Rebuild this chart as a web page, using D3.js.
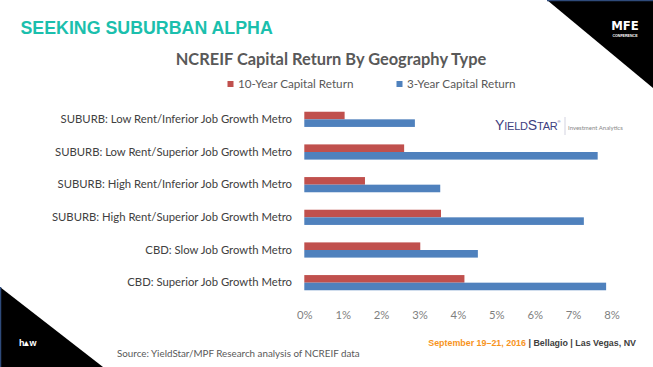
<!DOCTYPE html>
<html><head><meta charset="utf-8">
<script src="https://cdn.jsdelivr.net/npm/d3@7"></script>
<style>html,body{margin:0;padding:0;background:#fff;overflow:hidden}</style>
</head><body>
<script>
const categories = [
  "SUBURB: Low Rent/Inferior Job Growth Metro",
  "SUBURB: Low Rent/Superior Job Growth Metro",
  "SUBURB: High Rent/Inferior Job Growth Metro",
  "SUBURB: High Rent/Superior Job Growth Metro",
  "CBD: Slow Job Growth Metro",
  "CBD: Superior Job Growth Metro"
];
const tenYear = [1.05, 2.60, 1.58, 3.56, 3.02, 4.17];
const threeYear = [2.88, 7.64, 3.54, 7.28, 4.52, 7.86];
const tickValues = [0, 1, 2, 3, 4, 5, 6, 7, 8];
const seriesNames = ["10-Year Capital Return", "3-Year Capital Return"];
const colors = ["#c0504d", "#4f81bd"];

const W = 653, H = 367;
const svg = d3.select("body").append("svg").attr("width", W).attr("height", H);
const FONT = "Lato, 'Open Sans', sans-serif";

// decorations
svg.append("polygon").attr("points", "547,0 653,0 653,88").attr("fill", "#000");
svg.append("line").attr("x1", 547).attr("y1", 0.5).attr("x2", 653).attr("y2", 0.5).attr("stroke", "#2e4a7a").attr("stroke-width", 1.5);
svg.append("polygon").attr("points", "0,287 0,367 103,367").attr("fill", "#000");
svg.append("line").attr("x1", 0.5).attr("y1", 287).attr("x2", 0.5).attr("y2", 367).attr("stroke", "#2e4a7a").attr("stroke-width", 1.5);
// MFE logo
svg.append("text").attr("x", 625).attr("y", 30).attr("text-anchor", "middle")
  .attr("font-family", "'DejaVu Sans Condensed', 'Liberation Sans Narrow', sans-serif").attr("font-weight", "bold")
  .attr("font-size", 13).attr("fill", "#fff").text("MFE");
svg.append("text").attr("x", 625).attr("y", 36.5).attr("text-anchor", "middle")
  .attr("font-family", "Liberation Sans, sans-serif").attr("font-weight", "bold")
  .attr("font-size", 3.6).attr("fill", "#fff").text("CONFERENCE");
svg.append("text").attr("x", 19).attr("y", 346).attr("font-family", "Liberation Sans, sans-serif")
  .attr("font-weight", "bold").attr("font-size", 9).attr("fill", "#fff").text("h\u25B4w");

// header
svg.append("text").attr("x", 20.5).attr("y", 33.5).attr("font-family", "'Liberation Sans', Arial, sans-serif")
  .attr("font-weight", "bold").attr("font-size", 17.8).attr("fill", "#1bbfad").text("SEEKING SUBURBAN ALPHA");

// title
svg.append("text").attr("x", 331).attr("y", 64.5).attr("text-anchor", "middle").attr("font-family", FONT)
  .attr("font-weight", "bold").attr("font-size", 16.4).attr("fill", "#595959").text("NCREIF Capital Return By Geography Type");

// legend
const legX = [227.5, 396.5];
seriesNames.forEach((n, i) => {
  svg.append("rect").attr("x", legX[i]).attr("y", 81).attr("width", 6).attr("height", 6).attr("fill", colors[i]);
  svg.append("text").attr("x", legX[i] + 10.5).attr("y", 87.5).attr("font-family", FONT).attr("font-size", 11.7)
    .attr("fill", "#595959").text(n);
});

// scales
const x = d3.scaleLinear().domain([0, 8]).range([304.3, 611.5]);
const y = d3.scaleBand().domain(categories).range([103, 299]);
const bh = 7.6;

const g = svg.append("g");
g.selectAll("rect.ten").data(categories).join("rect").attr("class", "ten")
  .attr("x", x(0)).attr("y", d => y(d) + y.bandwidth() / 2 - bh)
  .attr("width", (d, i) => x(tenYear[i]) - x(0)).attr("height", bh).attr("fill", colors[0]);
g.selectAll("rect.three").data(categories).join("rect").attr("class", "three")
  .attr("x", x(0)).attr("y", d => y(d) + y.bandwidth() / 2)
  .attr("width", (d, i) => x(threeYear[i]) - x(0)).attr("height", bh).attr("fill", colors[1]);

// category axis
const yAxis = svg.append("g").attr("transform", "translate(304,0)")
  .call(d3.axisLeft(y).tickSize(0).tickPadding(12));
yAxis.select(".domain").remove();
yAxis.selectAll("text").attr("font-family", FONT).attr("font-size", 11.3).attr("fill", "#404040");

// value axis
const xAxis = svg.append("g").attr("transform", "translate(0,311)")
  .call(d3.axisBottom(x).tickValues(tickValues).tickSize(0).tickPadding(0).tickFormat(d => d + "%"));
xAxis.select(".domain").remove();
xAxis.selectAll("text").attr("font-family", FONT).attr("font-size", 11.3).attr("fill", "#7f7f7f");

// YieldStar logo
svg.append("text").attr("x", 495).attr("y", 129.5).attr("font-family", "'Liberation Sans', sans-serif")
  .attr("font-size", 14).attr("fill", "#3d4080").attr("letter-spacing", -0.2)
  .html('Y<tspan font-size="11">IELD</tspan>S<tspan font-size="11">TAR</tspan><tspan font-size="4" dy="-7">®</tspan>');
svg.append("line").attr("x1", 565).attr("y1", 117).attr("x2", 565).attr("y2", 135).attr("stroke", "#c8c8d8").attr("stroke-width", 0.8);
svg.append("text").attr("x", 568).attr("y", 129.5).attr("font-family", FONT).attr("font-size", 6)
  .attr("fill", "#888").text("Investment Analytics");

// footer
const ft = svg.append("text").attr("x", 636).attr("y", 345.5).attr("text-anchor", "end")
  .attr("font-family", "'Liberation Sans', Arial, sans-serif").attr("font-weight", "bold").attr("font-size", 8.9);
ft.append("tspan").attr("fill", "#f7941d").text("September 19\u201321, 2016");
ft.append("tspan").attr("fill", "#404040").text(" | Bellagio | Las Vegas, NV");

svg.append("text").attr("x", 117).attr("y", 357).attr("font-family", FONT).attr("font-size", 9.8)
  .attr("fill", "#595959").text("Source:  YieldStar/MPF Research analysis of NCREIF data");
</script>
</body></html>
